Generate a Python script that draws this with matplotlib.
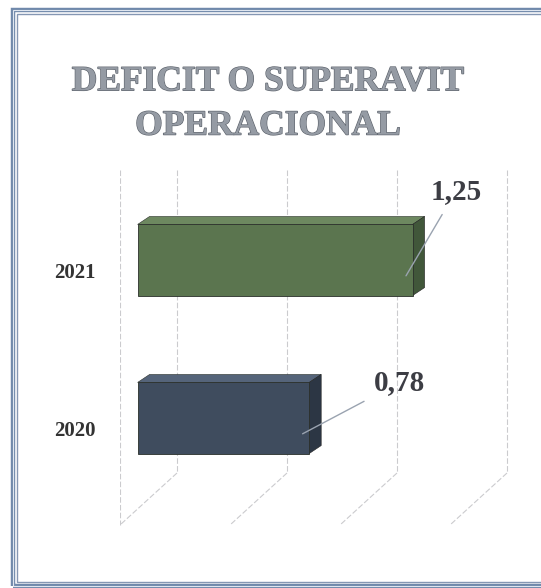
import matplotlib
matplotlib.use("Agg")
import matplotlib.pyplot as plt
from matplotlib.patches import Rectangle, Polygon
import matplotlib.patheffects as pe

# ---- data ----
title = "DEFICIT O SUPERAVIT\nOPERACIONAL"
categories = ["2020", "2021"]
values = [0.78, 1.25]
value_labels = ["0,78", "1,25"]
grid_ticks = [0.0, 0.5, 1.0, 1.5]

front_colors = ["#3f4c5e", "#5b754f"]
side_colors = ["#2c3644", "#41573a"]
top_colors = ["#55647a", "#6d8860"]

W, H = 541, 588
fig = plt.figure(figsize=(W / 100, H / 100), dpi=100)
fig.patch.set_facecolor("white")

# frame border (double line)
def px_rect(x0, y0, x1, y1, **kw):
    return Rectangle((x0 / W, 1 - y1 / H), (x1 - x0) / W, (y1 - y0) / H,
                     transform=fig.transFigure, fill=False, **kw)

fig.patches.append(px_rect(12.5, 9.5, 600, 586, edgecolor="#7089ab", lw=3.2))
fig.patches.append(px_rect(12.5, 9.5, 600, 586, edgecolor="#dfe6f0", lw=0.8))
fig.patches.append(px_rect(16.5, 13.5, 600, 582, edgecolor="#8597b3", lw=1.0))

# title
fig.text(268 / W, 1 - 104 / H, title, ha="center", va="center",
         family="Liberation Serif", fontweight="bold", fontsize=25.5,
         color="#959ba4", linespacing=1.45,
         path_effects=[pe.withStroke(linewidth=0.9, foreground="#5d636c")])

# axes: x=0 at px 120, 220 px/unit ; y: 2020 at px 418, 2021 at px 260
ax_l, ax_r, ax_t, ax_b = 120, 540, 165, 560
ax = fig.add_axes([ax_l / W, 1 - ax_b / H, (ax_r - ax_l) / W, (ax_b - ax_t) / H])
xscale = 220.0
yscale = 158.0
ax.set_xlim(0, (ax_r - ax_l) / xscale)
ax.set_ylim(-(ax_b - 418) / yscale, 1 + (260 - ax_t) / yscale)
ax.axis("off")

# pseudo-3D grid: back wall + floor lines
Dx, Dy = 57 / xscale, 52 / yscale
y_top = 1 + (260 - 170) / yscale
y_front = -(525 - 418) / yscale
y_back = y_front + Dy
gkw = dict(color="#cbcbce", lw=0.8, ls=(0, (5, 2)), zorder=1)
for t in grid_ticks:
    ax.plot([t + Dx, t + Dx], [y_top, y_back], **gkw)
    ax.plot([t + Dx, t], [y_back, y_front], **gkw)
ax.plot([0, 0], [y_top, y_front], **gkw)

# bars as boxes
bar_h = 0.45
bdx = 0.08
sdx, sdy = 12 / xscale, 8 / yscale
for i, (v, fc, sc, tc) in enumerate(zip(values, front_colors, side_colors, top_colors)):
    x0 = bdx
    x1 = bdx + v
    y0 = i - bar_h / 2
    y1 = i + bar_h / 2
    ax.add_patch(Polygon([(x0, y1), (x1, y1), (x1 + sdx, y1 + sdy), (x0 + sdx, y1 + sdy)],
                         closed=True, facecolor=tc, edgecolor="#2a2f2a", lw=0.4, zorder=3))
    ax.add_patch(Polygon([(x1, y0), (x1 + sdx, y0 + sdy), (x1 + sdx, y1 + sdy), (x1, y1)],
                         closed=True, facecolor=sc, edgecolor="#222", lw=0.4, zorder=3))
    ax.barh(i, v, left=x0, height=bar_h, color=fc, edgecolor="#2a2f2a", lw=0.6, zorder=4)
    # category label
    ax.text(-45 / xscale, i - 0.08, categories[i], ha="center", va="center",
            family="Liberation Serif", fontweight="bold", fontsize=15, color="#333333")

# value labels with leader lines
offsets = [(70, 37), (36, 61)]
for i, (v, lab) in enumerate(zip(values, value_labels)):
    ax.annotate(lab, xy=(bdx + v - 0.03, i - 0.1), xytext=offsets[i],
                textcoords="offset points", ha="center", va="center",
                family="Liberation Serif", fontweight="bold", fontsize=21,
                color="#3c3d44", zorder=6,
                arrowprops=dict(arrowstyle="-", color="#9aa3b0", lw=1.0,
                                shrinkA=6, shrinkB=0))

fig.savefig("out.png", dpi=100, facecolor="white")
